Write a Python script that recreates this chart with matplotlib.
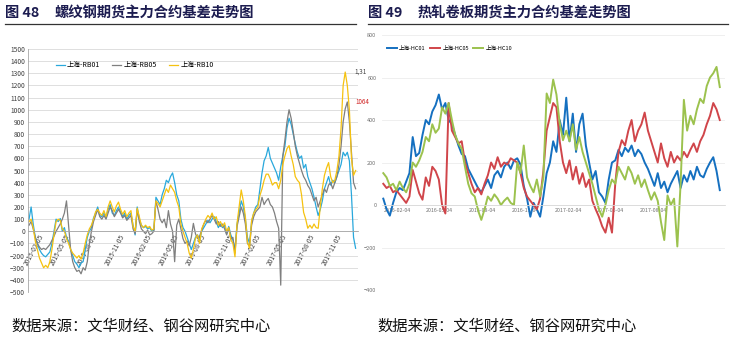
import pandas as pd
import matplotlib.pyplot as plt
import matplotlib.dates as mdates

plt.rcParams['font.family'] = ['Noto Sans CJK SC', 'DejaVu Sans']

# ---- 图48 螺纹钢 (weekly, from 2015-01-05) ----
rb01 = [100, 200, 60, -50, -100, -150, -180, -200, -210, -190, -170, -100, 0, 100, 80, 105, 0, 30, -50, -80,
        -150, -200, -250, -270, -300, -260, -250, -150, -50, 0, 30, 110, 150, 200, 130, 120, 150, 110, 180, 220,
        150, 130, 170, 200, 160, 120, 150, 100, 130, 150, 50, -30, 200, 100, 50, 30, 40, 20, 30, 0,
        10, 280, 250, 220, 300, 350, 420, 400, 450, 480, 400, 300, 250, 100, 30, 0, -50, -100, -150, -100,
        -50, -30, -80, 0, 30, 60, 90, 70, 100, 120, 80, 30, 60, 30, 50, -20, 40, -30, -70, -150,
        60, 150, 250, 200, 100, -50, -100, 80, 150, 200, 220, 350, 480, 580, 620, 690, 600, 560, 520, 480,
        420, 530, 620, 700, 850, 930, 880, 800, 720, 650, 600, 620, 520, 550, 450, 400, 350, 280, 200, 130,
        180, 250, 350, 400, 450, 380, 420, 400, 450, 500, 550, 650, 620, 650, 580, 300, -50, -140]
rb05 = [50, 80, 20, -50, -100, -130, -150, -140, -150, -130, -110, -75, -40, 0, 30, 60, 100, 150, 250, 50,
        -150, -250, -300, -330, -320, -350, -300, -320, -250, -100, 0, 80, 130, 180, 120, 100, 130, 100, 150, 200,
        170, 120, 150, 180, 150, 110, 130, 90, 110, 130, 20, -20, 180, 80, 20, 0, -20, 10, -30, -20,
        0, 250, 180, 100, 70, 100, 30, 170, 60, 0, -250, 50, 100, 20, -60, -100, -80, -120, -50, 65,
        -20, -60, -40, 10, 60, 90, 70, 100, 130, 100, 60, 80, 40, 60, 20, -30, 30, -60, -50, -180,
        40, 120, 200, 150, 60, -100, -120, 50, 120, 160, 180, 200, 280, 220, 250, 270, 220, 200, 150, 80,
        25, -443, 620, 750, 900, 1000, 930, 820, 700, 620, 560, 500, 450, 420, 377, 350, 300, 250, 280, 200,
        250, 300, 350, 320, 380, 400, 350, 400, 450, 550, 700, 900, 1008, 1064, 900, 650, 400, 350]
rb10 = [80, 100, 30, -80, -150, -220, -260, -300, -280, -300, -250, -150, -30, 80, 100, 90, 20, 0, -60, -100,
        -150, -180, -200, -220, -200, -230, -180, -100, -30, 20, 50, 100, 160, 180, 150, 130, 170, 120, 200, 250,
        200, 160, 210, 240, 180, 140, 170, 120, 150, 170, 40, 0, 190, 120, 50, 30, 50, 30, 40, 10,
        20, 250, 230, 200, 250, 300, 350, 320, 380, 350, 320, 250, 200, 60, 0, -50, -100, -180, -220, -150,
        -60, -30, -100, 20, 60, 100, 130, 110, 150, 100, 120, 50, 80, 40, 70, 0, 30, -70, -100, -210,
        65, 200, 340, 250, 120, -90, -140, 90, 150, 180, 200, 295, 350, 420, 470, 470, 430, 380, 400, 400,
        350, 420, 550, 620, 680, 705, 620, 550, 450, 420, 400, 300, 155, 100, 25, 50, 25, 60, 30, 25,
        200, 350, 460, 520, 565, 450, 400, 420, 500, 620, 850, 1200, 1310, 1200, 1000, 600, 460, 500]

# ---- 图49 热轧卷板 (weekly, from 2016-01-04) ----
hc01 = [30, -20, -50, 10, 60, 80, 70, 110, 150, 320, 230, 245, 330, 400, 380, 440, 470, 520, 450, 480,
        400, 380, 330, 280, 240, 230, 170, 140, 110, 80, 60, 90, 120, 80, 140, 160, 130, 180, 200, 170,
        210, 220, 190, 90, 30, -55, 10, -20, -55, 40, 150, 200, 300, 250, 400, 330, 505, 300, 430, 250,
        380, 430, 280, 200, 120, 160, 60, 40, 10, 120, 200, 210, 260, 230, 270, 250, 280, 230, 260, 240,
        200, 170, 130, 90, 150, 80, 110, 60, 100, 130, 160, 80, 140, 110, 160, 120, 180, 140, 130, 170,
        200, 225, 160, 70]
hc05 = [100, 80, 90, 60, 70, 50, 30, 10, 40, 165, 110, 55, 25, 130, 90, 180, 160, 120, 0, -40,
        480, 350, 320, 290, 300, 200, 150, 100, 60, 80, 50, 100, 140, 200, 170, 225, 180, 200, 190, 220,
        210, 200, 150, 80, 40, 20, 0, -20, 30, 160, 350, 415, 480, 460, 300, 200, 150, 210, 120, 180,
        100, 150, 85, 120, 20, -20, -55, -100, -130, -60, -130, 100, 250, 305, 280, 350, 400, 300, 350, 380,
        435, 350, 300, 250, 200, 290, 220, 180, 250, 200, 230, 210, 250, 225, 260, 290, 250, 300, 330, 380,
        420, 480, 450, 400]
hc10 = [150, 130, 90, 100, 70, 110, 80, 60, 100, 200, 180, 210, 250, 320, 300, 380, 340, 360, 460, 430,
        480, 400, 330, 290, 265, 180, 100, 55, 40, -25, -70, -20, 40, 20, 50, 30, 0, 20, 35, 10,
        0, 200, 150, 280, 130, 90, 60, 120, 40, 130, 525, 480, 590, 520, 385, 305, 350, 300, 380, 260,
        320, 250, 200, 150, 100, 40, -20, -55, 0, 70, 120, 100, 180, 150, 120, 180, 150, 100, 140, 85,
        120, 70, 25, 60, 20, -80, -165, 45, 0, 30, -195, 100, 495, 350, 420, 380, 450, 500, 480, 560,
        600, 620, 650, 555]

rb_names = ['上海-RB01', '上海-RB05', '上海-RB10']
hc_names = ['上海-HC01', '上海-HC05', '上海-HC10']

rb_dates = pd.date_range('2015-01-05', periods=len(rb01), freq='7D')
hc_dates = pd.date_range('2016-01-04', periods=len(hc01), freq='7D')

fig = plt.figure(figsize=(7.33, 3.40), dpi=100)

# titles with underline
fig.text(0.007, 0.962, '图 48', fontsize=10.3, fontweight='bold', color='#1c1c50', va='center')
fig.text(0.075, 0.962, '螺纹钢期货主力合约基差走势图', fontsize=10.3, fontweight='bold',
         color='#1c1c50', va='center')
fig.text(0.502, 0.962, '图 49', fontsize=10.3, fontweight='bold', color='#1c1c50', va='center')
fig.text(0.570, 0.962, '热轧卷板期货主力合约基差走势图', fontsize=10.3, fontweight='bold',
         color='#1c1c50', va='center')
fig.add_artist(plt.Line2D([0.007, 0.485], [0.930, 0.930], color='#333333', lw=0.9))
fig.add_artist(plt.Line2D([0.502, 0.993], [0.930, 0.930], color='#333333', lw=0.9))

# ---- left chart ----
ax1 = fig.add_axes([0.038, 0.141, 0.450, 0.715])
ax1.plot(rb_dates, rb01, color='#29a8dc', lw=0.9, label=rb_names[0])
ax1.plot(rb_dates, rb05, color='#7f7f7f', lw=0.9, label=rb_names[1])
ax1.plot(rb_dates, rb10, color='#f5c210', lw=0.9, label=rb_names[2])
ax1.set_ylim(-500, 1500)
ax1.set_yticks(range(-500, 1501, 100))
ax1.set_xlim(pd.Timestamp('2015-01-01'), pd.Timestamp('2018-01-15'))
ax1.set_xticks(pd.date_range('2015-01-05', '2018-01-05', freq='3MS') + pd.Timedelta(days=4))
ax1.xaxis.set_major_formatter(mdates.DateFormatter('%Y-%m-%d'))
ax1.grid(axis='y', color='#d9d9d9', lw=0.6)
ax1.set_axisbelow(True)
for s in ['top', 'right']:
    ax1.spines[s].set_visible(False)
ax1.spines['left'].set_color('#a6a6a6')
ax1.spines['left'].set_linewidth(0.6)
ax1.spines['bottom'].set_position(('data', 0))
ax1.spines['bottom'].set_color('#a6a6a6')
ax1.spines['bottom'].set_linewidth(0.6)
ax1.tick_params(axis='y', labelsize=4.8, length=0, pad=2, labelcolor='#404040')
ax1.tick_params(axis='x', labelsize=4.8, length=0, pad=1, labelcolor='#404040')
for lab in ax1.get_xticklabels():
    lab.set_rotation(62)
    lab.set_ha('right')
    lab.set_va('top')
    lab.set_rotation_mode('anchor')
ax1.legend(loc='upper left', bbox_to_anchor=(0.065, 0.975), ncol=3, frameon=False, fontsize=5,
           handlelength=1.3, columnspacing=1.8, handletextpad=0.3)
ax1.text(pd.Timestamp('2018-01-03'), 1310, '1,31', fontsize=4.5, color='#404040', va='center')
ax1.text(pd.Timestamp('2018-01-08'), 1064, '1064', fontsize=4.5, color='#d02020', va='center')

# ---- right chart ----
ax2 = fig.add_axes([0.521, 0.147, 0.468, 0.750])
ax2.plot(hc_dates, hc01, color='#1570c0', lw=1.4, label=hc_names[0])
ax2.plot(hc_dates, hc05, color='#d0454a', lw=1.4, label=hc_names[1])
ax2.plot(hc_dates, hc10, color='#9cc24e', lw=1.4, label=hc_names[2])
ax2.set_ylim(-400, 800)
ax2.set_yticks(range(-400, 801, 200))
ax2.set_xlim(pd.Timestamp('2016-01-01'), pd.Timestamp('2018-01-05'))
ax2.set_xticks(pd.date_range('2016-01-04', '2017-10-04', freq='3MS') + pd.Timedelta(days=3))
ax2.xaxis.set_major_formatter(mdates.DateFormatter('%Y-%m-%d'))
ax2.grid(axis='y', color='#ececec', lw=0.6)
ax2.set_axisbelow(True)
for s in ['top', 'right', 'left']:
    ax2.spines[s].set_visible(False)
ax2.spines['bottom'].set_position(('data', 0))
ax2.spines['bottom'].set_color('#d9d9d9')
ax2.spines['bottom'].set_linewidth(0.6)
ax2.tick_params(axis='y', labelsize=4, length=0, pad=4, labelcolor='#707070')
ax2.tick_params(axis='x', labelsize=3.8, length=0, pad=2, labelcolor='#707070')
ax2.legend(loc='upper left', bbox_to_anchor=(0.0, 0.975), ncol=3, frameon=False, fontsize=4,
           handlelength=1.8, columnspacing=0.8, handletextpad=0.4)

# sources
fig.text(0.016, 0.04, '数据来源：文华财经、钢谷网研究中心', fontsize=11, color='#111111', va='center')
fig.text(0.515, 0.04, '数据来源：文华财经、钢谷网研究中心', fontsize=11, color='#111111', va='center')

fig.savefig('out.png', dpi=100)
